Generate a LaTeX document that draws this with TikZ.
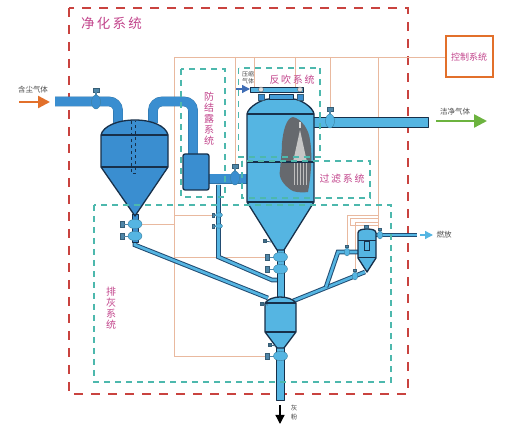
\documentclass[tikz,border=0pt]{standalone}
\usepackage{fontspec}
\setmainfont{Noto Sans CJK SC}
\usetikzlibrary{positioning,arrows.meta,shapes.geometric,backgrounds}
\definecolor{colRojo}{HTML}{C9433F}
\definecolor{colTeal}{HTML}{4DB8AD}
\definecolor{colCable}{HTML}{E9B99F}
\definecolor{colNaranja}{HTML}{E2702B}
\definecolor{colVerde}{HTML}{6CB33F}
\definecolor{colAire}{HTML}{3F6DB5}
\definecolor{colTexto}{HTML}{C2458C}
\definecolor{colCiclon}{HTML}{3A8ED0}
\definecolor{colFiltro}{HTML}{55B5E2}
\definecolor{colBorde}{HTML}{17304A}
\definecolor{colVastago}{HTML}{4F86A8}
\definecolor{colGris}{HTML}{66696E}
\begin{document}
\begin{tikzpicture}[x=1pt,y=-1pt,
      frame/.style={draw=colRojo, line width=1.5pt, dash pattern=on 9pt off 8pt},
      zone/.style={draw=colTeal, line width=1.3pt, dash pattern=on 6pt off 5pt},
      wire/.style={draw=colCable, line width=0.8pt},
      pipe/.style={draw=#1!80!black, line width=0.4pt, double=#1, double distance=9pt, rounded corners=9pt},
      thin pipe/.style={draw=colBorde!70!colCiclon, line width=1pt, double=colFiltro, double distance=2.6pt},
      tank/.style={draw=colBorde, line width=1.3pt, fill=#1, line join=round},
      valve/.style={ellipse, draw=colFiltro!70!black, line width=0.4pt, fill=#1, inner sep=0pt, minimum width=9pt, minimum height=14pt},
      valve/.default=colFiltro,
      flat valve/.style={valve, minimum width=14pt, minimum height=9.5pt},
      small valve/.style={valve, minimum width=5.5pt, minimum height=8pt},
      stem/.style={rectangle, draw=colVastago!70!black, line width=0.3pt, fill=colVastago, inner sep=0pt, minimum width=6pt, minimum height=4pt},
      side stem/.style={stem, minimum width=4pt, minimum height=6pt},
      flow/.style={-{Triangle[length=#1,width=#1]}, line width=2.4pt},
      title/.style={text=colTexto, font=\fontsize{10}{11}\selectfont, align=center, inner sep=0pt},
      note/.style={text=black!70, font=\fontsize{7.5}{8.5}\selectfont, align=center, inner sep=0pt}]
    \useasboundingbox (0,0) rectangle (515,430);
    % pipes
    \draw[pipe=colCiclon] (55,101.5) -- (118,101.5) -- (118,123);
    \draw[pipe=colCiclon] (153,123) -- (153,101.5) -- (193,101.5) -- (193,156);
    \draw[pipe=colCiclon] (208,179) -- (248,179);
    \draw[thin pipe] (218.5,185) -- (218.5,257) -- (272,280) -- (278,280);
    \draw[thin pipe] (135,241) -- (135,245) -- (268,298);
    \draw[thin pipe] (293,301) -- (365,272);
    \draw[thin pipe] (326,287) -- (338,252) -- (360,252);
    \draw[thin pipe] (376,235) -- (417,235);
    \draw[tank=colFiltro, line width=0.9pt] (312,117) rectangle (428,127);
    \draw[tank=colFiltro, line width=0.8pt] (277,248) rectangle (284,300);
    \draw[tank=colFiltro, line width=0.9pt] (276.5,345) rectangle (284.5,400);
    \draw[tank=colCiclon, line width=0.6pt] (132,214) rectangle (138,242);
    % cyclone
    \draw[tank=colCiclon] (101,135) .. controls (103,126) and (118,120) .. (135,120)
        .. controls (152,120) and (166,126) .. (168,135) -- (168,167) -- (135,216) -- (101,167) -- cycle;
    \draw[colBorde, line width=1.2pt] (101,135) -- (168,135) (101,167) -- (168,167);
    \draw[colBorde, line width=0.7pt, dashed] (131.5,121) -- (131.5,173.5) -- (135.5,173.5) -- (135.5,121);
    % dew tank
    \draw[tank=colCiclon, rounded corners=2pt] (183,154) rectangle (209,190);
    % main filter
    \draw[tank=colFiltro] (247,114) .. controls (248,107) and (262,99) .. (269,99) -- (293,99)
        .. controls (300,99) and (313,107) .. (314,114) -- (314,202) -- (284,250) -- (277,250) -- (247,202) -- cycle;
    \draw[colBorde, line width=1.2pt] (247,114) -- (314,114) (247,162) -- (314,162) (247,202) -- (314,202);
    \fill[colGris] (293,117) .. controls (302,119) and (309,130) .. (310,140) .. controls (312,150) and (312,170) .. (308,192)
        .. controls (300,193) and (294,192) .. (291,190) .. controls (284,185) and (278,178) .. (280,170)
        .. controls (281,158) and (282,150) .. (282,143) .. controls (283,132) and (286,118) .. (293,117);
    \fill[black!22] (300,130) -- (307,162) -- (293,162) -- cycle;
    \fill[white!85!black] (298.5,122) rectangle (301,128);
    \foreach \x in {294,297,300,303,306} {\draw[black!25, line width=0.7pt] (\x,163) -- (\x,185);}
    \draw[colBorde, line width=1.2pt] (282,162) -- (312,162);
    % header on top
    \draw[tank=colCiclon!60!colFiltro, line width=0.7pt] (269,94.5) rectangle (293,99);
    \draw[tank=colFiltro, line width=0.8pt] (250,87) rectangle (303,92);
    \foreach \n/\x in {hdA/261,hdB/300} {
      \node[stem, minimum height=6pt, fill=colCiclon] (stem\n) at (\x,97) {};
      \node[circle, draw=black!60, fill=black!12, line width=0.4pt, inner sep=0pt, minimum size=5pt] (\n) at (\x,89.5) {};
    }
    % lower hopper
    \draw[tank=colFiltro] (265,303) .. controls (268,299) and (274,297) .. (280,297) .. controls (287,297) and (293,299) .. (296,303)
        -- (296,332) -- (284,348) -- (277,348) -- (265,332) -- cycle;
    \draw[colBorde, line width=1.2pt] (265,303) -- (296,303) (265,332) -- (296,332);
    % small filter
    \draw[tank=colFiltro] (358,241) -- (358,233) .. controls (358,230) and (362,229) .. (367,229)
        .. controls (372,229) and (376,230) .. (376,233) -- (376,258) -- (367,272) -- (358,258) -- cycle;
    \draw[colBorde, line width=1pt] (358,241) -- (376,241) (358,258) -- (376,258);
    \draw[colBorde, line width=0.8pt] (364.5,241) rectangle (369.5,250);
    % valves with a stem on top
    \foreach \n/\x/\y/\c in {vIn/96/102/colCiclon,vDew/235/178/colCiclon,vOut/330/121/colFiltro} {
      \node[stem] (stem\n) at (\x,\y-12) {};
      \draw[colVastago, line width=1.4pt] (stem\n) -- (\x,\y);
      \node[valve=\c] (\n) at (\x,\y) {};
    }
    % valves with a stem on the left
    \foreach \n/\x/\y in {vCa/135/224,vCb/135/236,vFa/280.5/257,vFb/280.5/269,vHo/280.5/356} {
      \node[side stem] (stem\n) at (\x-13,\y) {};
      \draw[colVastago, line width=0.8pt] (stem\n) -- (\x,\y);
      \node[flat valve] (\n) at (\x,\y) {};
    }
    \foreach \n/\x/\y in {vDa/219/215,vDb/219/226} {
      \node[side stem, minimum width=2.5pt, minimum height=4pt] (stem\n) at (\x-6,\y) {};
      \draw[colVastago, line width=0.7pt] (stem\n) -- (\x,\y);
      \node[valve, minimum width=7pt, minimum height=4.5pt] (\n) at (\x,\y) {};
    }
    % little valves of the small filter
    \foreach \n/\x/\y in {vSa/347/252,vSb/355/276,vSc/380/235} {
      \node[stem, minimum width=3pt, minimum height=2.5pt] (stem\n) at (\x,\y-6) {};
      \node[small valve] (\n) at (\x,\y) {};
    }
    \node[stem, minimum width=4pt, minimum height=3pt] (knob) at (366,227) {};
    % vibrators
    \foreach \n/\x/\y in {tA/265/241,tB/262/304,tC/270/345} {
      \node[stem, minimum width=3pt, minimum height=3pt, fill=colVastago!80!black] (\n) at (\x,\y) {};
      \draw[colVastago!80!black, line width=0.8pt] (\n) -- ++(6,1);
    }
    % dashed zones
    \draw[zone] (181,69) rectangle (225,197);
    \draw[zone] (238.5,68) rectangle (320,157);
    \draw[zone] (242,161) rectangle (370,198);
    \draw[zone] (94,205) rectangle (391,382);
    % control
    \node[draw=colNaranja, line width=2pt, minimum width=47pt, minimum height=41pt, inner sep=0pt,
          text=colTexto, font=\fontsize{9}{10}\selectfont] (ctrl) at (469,57) {控制系统};
    % labels
    \node[title, font=\fontsize{13.5}{15}\selectfont, right=0pt] (tNet) at (81,23) {净\,化\,系\,统};
    \node[title] (tDew) at (209,118.5) {防\\结\\露\\系\\统};
    \node[title] (tBack) at (292,79.5) {反\,吹\,系\,统};
    \node[title] (tFil) at (342,179) {过\,滤\,系\,统};
    \node[title] (tAsh) at (111,308) {排\\灰\\系\\统};
    \node[note] (nIn) at (33,89.5) {含尘气体};
    \node[note] (nOut) at (455,112) {洁净气体};
    \node[note] (nBurn) at (444,235) {燃放};
    \node[note, font=\fontsize{6}{6.8}\selectfont] (nAir) at (248,78) {压缩\\气体};
    \node[note, font=\fontsize{6.5}{9}\selectfont] (nDust) at (294,412.5) {灰\\粉};
    % flow arrows
    \coordinate (inA) at (19,102);
    \coordinate (inB) at (50,102);
    \coordinate (outA) at (436,121);
    \coordinate (outB) at (487,121);
    \coordinate (airA) at (236,89);
    \coordinate (airB) at (250,89);
    \coordinate (burnA) at (420,235);
    \coordinate (burnB) at (433,235);
    \coordinate (ashA) at (280,405);
    \coordinate (ashB) at (280,424);
    \draw[flow=12pt, colNaranja] (inA) -- (inB);
    \draw[flow=13pt, colVerde] (outA) -- (outB);
    \draw[flow=8pt, colAire, line width=1.3pt] (airA) -- (airB);
    \draw[flow=8pt, colFiltro, line width=1.3pt] (burnA) -- (burnB);
    \draw[flow=9pt, black, line width=1.3pt] (ashA) -- (ashB);
    % wires and outer frame go behind
    \begin{scope}[on background layer]
      \draw[frame] (69,8) rectangle (408,394);
      \coordinate (bus) at (174,57);
      \coordinate (busEnd) at (378,230);
      \coordinate (ashEnd) at (174,356);
      \draw[wire] (bus) -- (ctrl.west |- bus);
      \draw[wire] (bus) -- (ashEnd) -- (vHo);
      \foreach \n in {stemvDew,stemvOut} {\draw[wire] (\n |- bus) -- (\n);}
      \foreach \x in {254,295} {\draw[wire] (\x,57) -- (\x,87);}
      \foreach \n in {vCa,vDa,vFa} {\draw[wire] (\n) -- (\n -| bus);}
      \draw[wire] (busEnd |- bus) -- (busEnd);
      \draw[wire] (busEnd |- 0,215) -| (stemvSa);
      \draw[wire] (busEnd |- 0,222) -| (stemvSb);
      \draw[wire] (busEnd |- 0,218.5) -- (350,218.5) -- (350,225.5) -- (busEnd |- 0,225.5);
    \end{scope}
  \end{tikzpicture}
\end{document}
